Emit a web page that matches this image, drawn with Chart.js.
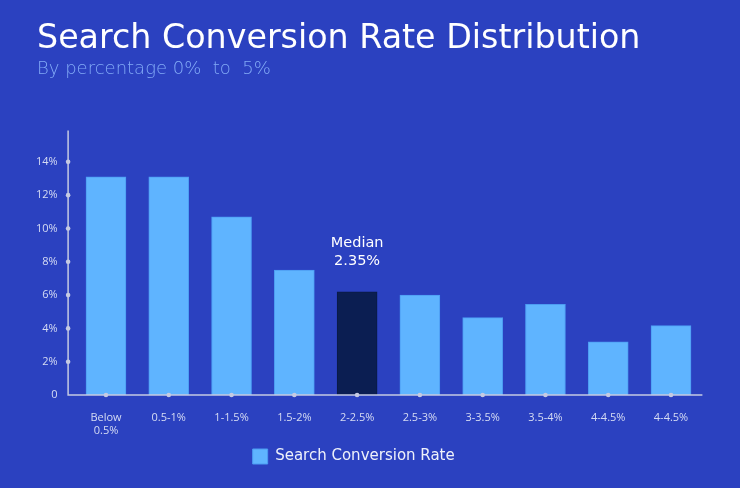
<!DOCTYPE html>
<html>
<head>
<meta charset="utf-8">
<script src="https://cdn.jsdelivr.net/npm/chart.js@4"></script>
<style>
html,body{margin:0;padding:0;background:#2B41C0;}
#wrap{width:740px;height:488px;position:relative;}
</style>
</head>
<body>
<div id="wrap"><canvas id="c" width="740" height="488"></canvas></div>
<script>
const categories = [["Below","0.5%"],"0.5-1%","1-1.5%","1.5-2%","2-2.5%","2.5-3%","3-3.5%","3.5-4%","4-4.5%","4-4.5%"];
const values = [13.1, 13.1, 10.7, 7.5, 6.2, 6.0, 4.65, 5.45, 3.2, 4.17];
const yTicks = [0, 2, 4, 6, 8, 10, 12, 14];
const medianIndex = 4;
const medianLabel = ["Median", "2.35%"];

const FONT = "'Open Sans', sans-serif";
const HFONT = "'DejaVu Sans', sans-serif";
const barColors = values.map((v, i) => i === medianIndex ? '#0B1E52' : '#5FB4FF');
const borderColors = values.map((v, i) => i === medianIndex ? '#0A1A46' : '#4C9CF2');

const axisPlugin = {
  id: 'customAxes',
  afterLayout(chart) {
    if (chart.legend) {
      chart.legend.left -= 16;
      chart.legend.right -= 16;
    }
  },
  afterDatasetsDraw(chart) {
    const ctx = chart.ctx;
    const ca = chart.chartArea;
    const y = chart.scales.y, x = chart.scales.x;
    const x0 = ca.left - 6.5;
    const yb = y.getPixelForValue(0);
    ctx.save();
    ctx.strokeStyle = '#C5CAE2';
    ctx.lineWidth = 1.5;
    ctx.beginPath();
    ctx.moveTo(x0, ca.top + 2);
    ctx.lineTo(x0, yb);
    ctx.lineTo(ca.right, yb);
    ctx.stroke();
    ctx.fillStyle = '#C5CAE2';
    yTicks.forEach(t => {
      if (t === 0) return;
      ctx.beginPath();
      ctx.arc(x0, y.getPixelForValue(t), 2.3, 0, Math.PI * 2);
      ctx.fill();
    });
    categories.forEach((c, i) => {
      ctx.beginPath();
      ctx.arc(x.getPixelForValue(i), yb, 2.3, 0, Math.PI * 2);
      ctx.fill();
    });
    // median label
    const bar = chart.getDatasetMeta(0).data[medianIndex];
    ctx.fillStyle = '#FFFFFF';
    ctx.font = "14.5px " + HFONT;
    ctx.textAlign = 'center';
    ctx.textBaseline = 'middle';
    ctx.fillText(medianLabel[0], bar.x, bar.y - 48.5);
    ctx.fillText(medianLabel[1], bar.x, bar.y - 31);
    ctx.restore();
  }
};

new Chart(document.getElementById('c'), {
  type: 'bar',
  data: {
    labels: categories,
    datasets: [{
      label: 'Search Conversion Rate',
      data: values,
      backgroundColor: barColors,
      borderColor: borderColors,
      borderWidth: 1,
      barThickness: 40
    }]
  },
  options: {
    responsive: false,
    animation: false,
    layout: { padding: { left: 37, right: 37.6, top: 0, bottom: 14 } },
    plugins: {
      title: {
        display: true,
        text: 'Search Conversion Rate Distribution',
        align: 'start',
        color: '#FFFFFF',
        font: { family: HFONT, size: 33.3, weight: 'normal' },
        padding: { top: 19, bottom: 0 }
      },
      subtitle: {
        display: true,
        text: 'By percentage 0%  to  5%',
        align: 'start',
        color: '#82AAF6',
        font: { family: HFONT, size: 18, weight: '300' },
        padding: { top: 0, bottom: 48 }
      },
      legend: {
        position: 'bottom',
        labels: {
          color: '#EEF1FA',
          font: { family: HFONT, size: 15 },
          boxWidth: 15,
          boxHeight: 15,
          padding: 12,
          generateLabels: (chart) => [{
            text: 'Search Conversion Rate',
            fillStyle: '#5FB4FF',
            strokeStyle: '#4C9CF2',
            lineWidth: 1,
            fontColor: '#EEF1FA',
            datasetIndex: 0
          }]
        }
      },
      tooltip: { enabled: false }
    },
    scales: {
      x: {
        afterFit: (s) => { s.height = 42; },
        grid: { display: false, drawTicks: false },
        border: { display: false },
        ticks: { color: '#D6DCF3', font: { family: FONT, size: 11 }, padding: 16, maxRotation: 0 }
      },
      y: {
        min: 0,
        max: 16,
        afterFit: (s) => { s.width = 37.6; },
        afterBuildTicks: (s) => { s.ticks = yTicks.map(v => ({ value: v })); },
        grid: { display: false, drawTicks: false },
        border: { display: false },
        ticks: {
          color: '#D6DCF3',
          font: { family: FONT, size: 11 },
          padding: 17,
          callback: (v) => v === 0 ? '0' : v + '%'
        }
      }
    }
  },
  plugins: [axisPlugin]
});
</script>
</body>
</html>
